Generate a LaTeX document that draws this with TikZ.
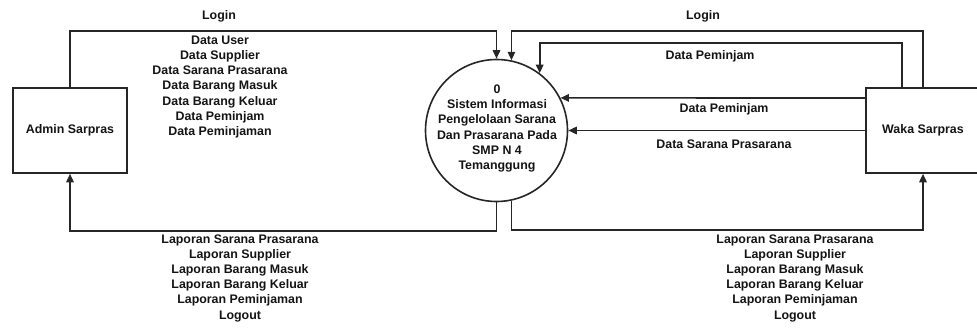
\documentclass[tikz,border=0pt]{standalone}
\usepackage{fontspec}
\setmainfont{Liberation Sans}
\usetikzlibrary{arrows.meta}
\definecolor{lineC}{HTML}{262626}
\definecolor{txtC}{HTML}{141414}
\begin{document}
\begin{tikzpicture}[x=1pt,y=-1pt,
  flow/.style={draw=lineC, line width=1.6pt, -{Triangle[length=8.5pt,width=7.5pt]}},
  ent/.style={draw=lineC, line width=1.6pt, fill=white, minimum width=114pt, minimum height=85pt, inner sep=0pt, text=txtC, font=\bfseries\fontsize{12.4}{15.2}\selectfont},
  proc/.style={draw=lineC, line width=1.6pt, circle, minimum size=142pt, inner sep=0pt},
  lbl/.style={text=txtC, align=center, inner sep=0pt, font=\bfseries\fontsize{12.4}{15.2}\selectfont}]
\useasboundingbox (0,0) rectangle (977,327);
\node[ent] (admin) at (70,130.5) {Admin Sarpras};
\node[ent] (waka) at (923,130.5) {Waka Sarpras};
\node[proc] (proc) at (496.5,130.5) {};
\node[lbl] (proctxt) at (497,128.5) {0\\Sistem Informasi\\Pengelolaan Sarana\\Dan Prasarana Pada\\SMP N 4\\Temanggung};
% flows
\draw[flow] (admin.north) -- ++(0,-56) -| (proc.north);
\draw[flow] (waka.north) -- ++(0,-56) -| (proc.78);
\draw[flow] ([xshift=-21pt]waka.north) -- ++(0,-44) -| (proc.53.2);
\draw[flow] ([yshift=32.5pt]waka.west) -- (proc.27.7);
\draw[flow] (waka.west) -- (proc.east);
\draw[flow] (proc.south) -- ++(0,28.5) -| (admin.south);
\draw[flow] (proc.-78) -- ++(0,29) -| (waka.south);
% labels
\node[lbl] (lLoginA) at (219,16) {Login};
\node[lbl] (lLoginW) at (703,16) {Login};
\node[lbl] (lDataA) at (220,87) {Data User\\Data Supplier\\Data Sarana Prasarana\\Data Barang Masuk\\Data Barang Keluar\\Data Peminjam\\Data Peminjaman};
\node[lbl] (lPem1) at (710,56) {Data Peminjam};
\node[lbl] (lPem2) at (724,109) {Data Peminjam};
\node[lbl] (lSar) at (724,144) {Data Sarana Prasarana};
\node[lbl] (lLapA) at (240,278) {Laporan Sarana Prasarana\\Laporan Supplier\\Laporan Barang Masuk\\Laporan Barang Keluar\\Laporan Peminjaman\\Logout};
\node[lbl] (lLapW) at (795,278) {Laporan Sarana Prasarana\\Laporan Supplier\\Laporan Barang Masuk\\Laporan Barang Keluar\\Laporan Peminjaman\\Logout};
\end{tikzpicture}
\end{document}
